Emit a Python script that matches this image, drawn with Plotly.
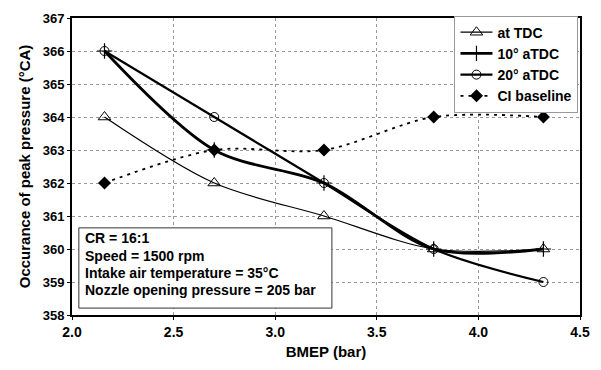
import plotly.graph_objects as go

bmep = [2.16, 2.70, 3.24, 3.78, 4.32]
at_tdc = [364, 362, 361, 360, 360]
atdc10 = [366, 363, 362, 360, 360]
atdc20 = [366, 364, 362, 360, 359]
ci_base = [362, 363, 363, 364, 364]
info_lines = ["CR = 16:1", "Speed = 1500 rpm", "Intake air temperature = 35°C",
              "Nozzle opening pressure = 205 bar"]

FONT = "Liberation Sans, Arial, sans-serif"

fig = go.Figure()
fig.add_trace(go.Scatter(
    x=bmep, y=at_tdc, name="at TDC", mode="lines+markers",
    line=dict(color="black", width=1.2, shape="spline", smoothing=0.9),
    marker=dict(symbol="triangle-up-open", size=11, color="black", line=dict(width=1))))
fig.add_trace(go.Scatter(
    x=bmep, y=atdc10, name="10° aTDC", mode="lines+markers",
    line=dict(color="black", width=2.8, shape="spline", smoothing=0.9),
    marker=dict(symbol="cross-thin-open", size=11, color="black", line=dict(width=1.2, color="black"))))
fig.add_trace(go.Scatter(
    x=bmep, y=atdc20, name="20° aTDC", mode="lines+markers",
    line=dict(color="black", width=2.2, shape="spline", smoothing=0.9),
    marker=dict(symbol="circle-open", size=9, color="black", line=dict(width=1))))
fig.add_trace(go.Scatter(
    x=bmep, y=ci_base, name="CI baseline", mode="lines+markers",
    line=dict(color="black", width=1.8, dash="3px,5px", shape="spline", smoothing=0.9),
    marker=dict(symbol="diamond", size=10, color="black")))

# info box (plot area: 300 px tall, 518 px wide)
box_top, box_bot = 0.2933, 0.0233
annotations = []
line_y = [0.2593, 0.2, 0.141, 0.0833]
for txt, yy in zip(info_lines, line_y):
    annotations.append(dict(
        xref="paper", yref="paper", x=0.021, y=yy, xanchor="left", yanchor="middle",
        text=txt, showarrow=False,
        font=dict(family=FONT, size=14, color="black", weight="bold")))

fig.update_layout(
    width=601, height=370,
    margin=dict(l=72, r=11, t=15, b=55),
    paper_bgcolor="white", plot_bgcolor="white",
    font=dict(family=FONT, size=12, color="black"),
    legend=dict(x=0.997, y=1.008, xanchor="right", yanchor="top",
                bgcolor="white", bordercolor="#999", borderwidth=1,
                font=dict(family=FONT, size=14, color="black", weight="bold"),
                tracegroupgap=0, itemwidth=32),
    shapes=[dict(type="rect", xref="paper", yref="paper", x0=0.0135, x1=0.5116,
                 y0=box_bot, y1=box_top, fillcolor="white",
                 line=dict(color="#333", width=1), layer="above")],
    annotations=annotations,
)
fig.update_xaxes(
    range=[2.0, 4.5], dtick=0.5, tick0=2.0, tickformat=".1f",
    showgrid=True, gridcolor="#999", griddash="dot", gridwidth=1,
    showline=True, linecolor="black", linewidth=2, mirror=True,
    ticks="outside", ticklen=3, tickcolor="black",
    tickfont=dict(family=FONT, size=14, weight="bold"),
    title=dict(text="BMEP (bar)", font=dict(family=FONT, size=15, weight="bold"), standoff=8),
    zeroline=False)
fig.update_yaxes(
    range=[358, 367], dtick=1,
    showgrid=True, gridcolor="#999", griddash="dot", gridwidth=1,
    showline=True, linecolor="black", linewidth=2, mirror=True,
    ticks="outside", ticklen=3, tickcolor="black",
    tickfont=dict(family=FONT, size=13, weight="bold"),
    title=dict(text="Occurance of peak pressure (°CA)", font=dict(family=FONT, size=15, weight="bold"), standoff=8),
    zeroline=False)

fig.write_html("out.html")
